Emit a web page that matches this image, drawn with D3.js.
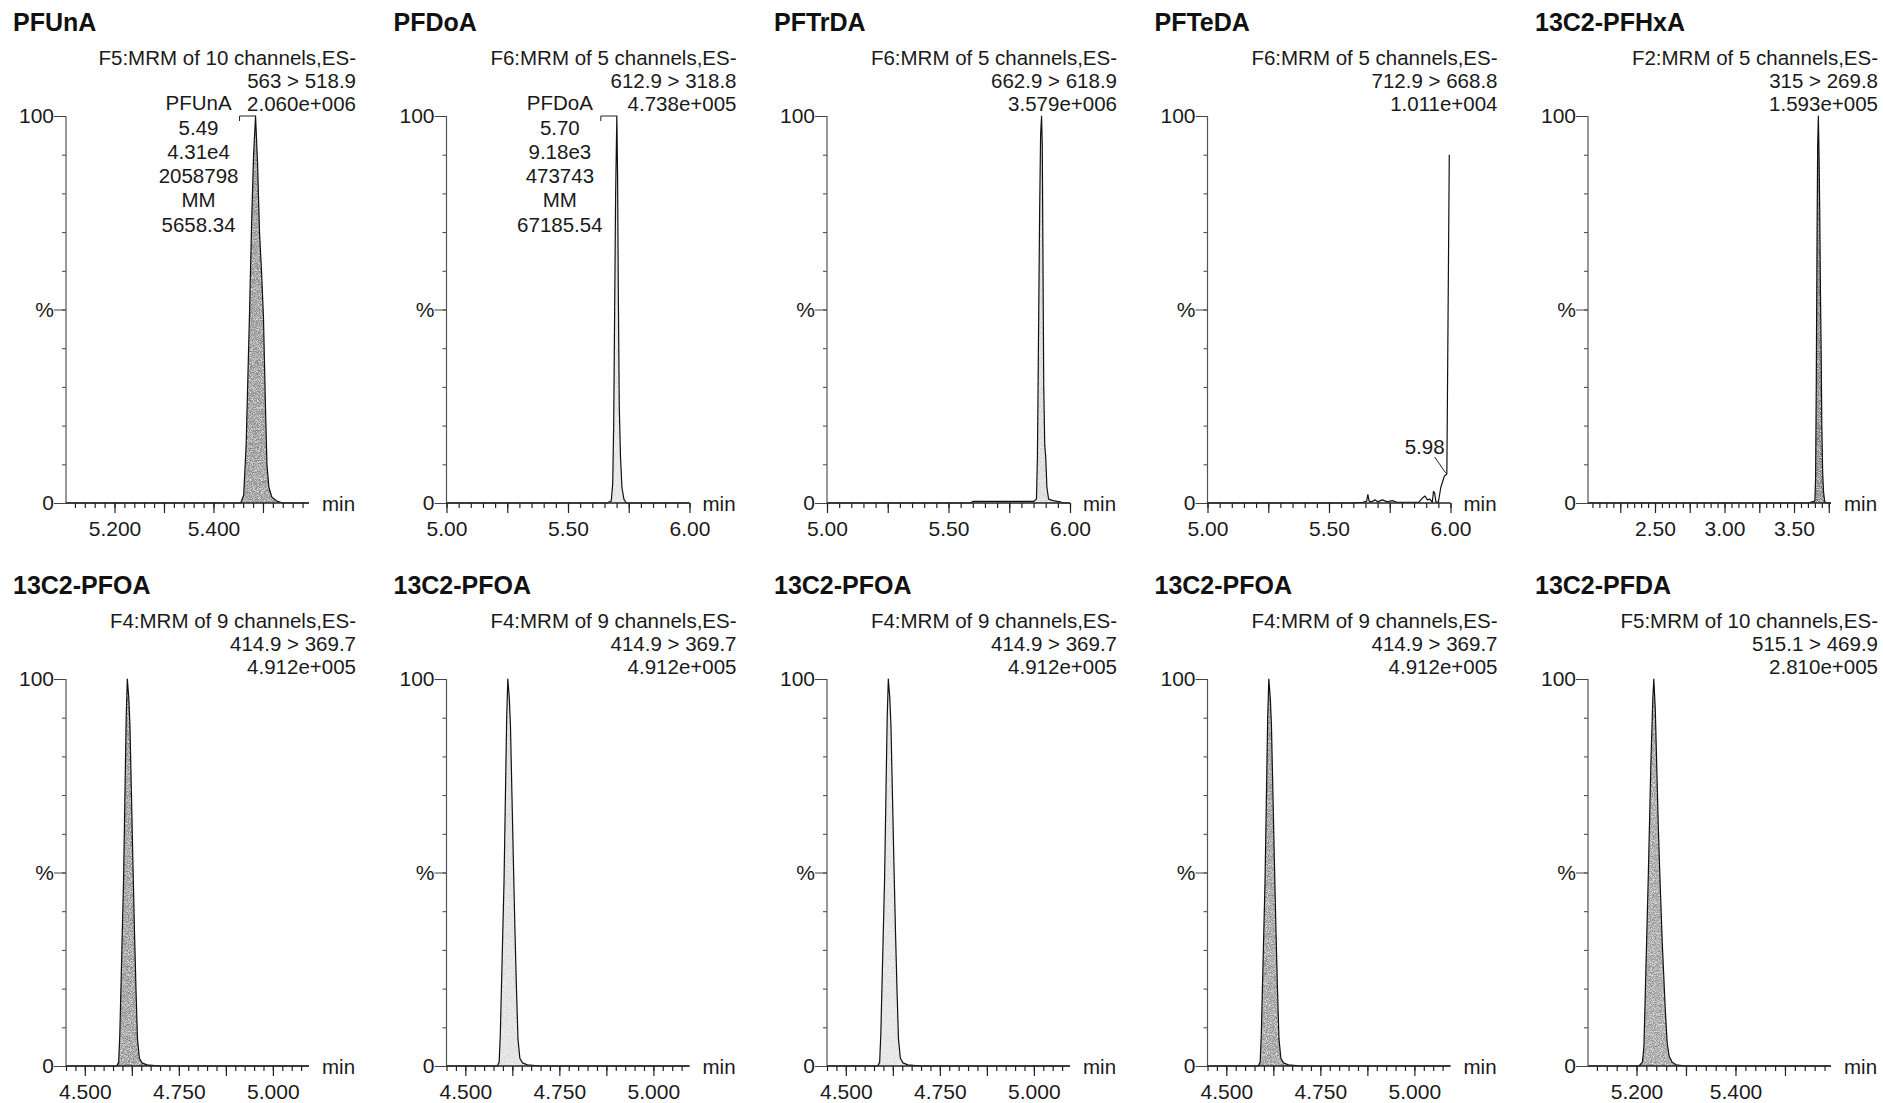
<!DOCTYPE html>
<html>
<head>
<meta charset="utf-8">
<script src="https://cdn.jsdelivr.net/npm/d3@7"></script>
<style>
  body { margin: 0; background: #fff; }
  svg { display: block; font-family: "Liberation Sans", Arial, sans-serif; }
  .title { font-size: 25px; font-weight: bold; fill: #111; }
  .hdr, .pk { font-size: 20.5px; fill: #1a1a1a; }
  .tick text { font-size: 21px; fill: #1a1a1a; font-family: "Liberation Sans", Arial, sans-serif; }
  .unit { font-size: 20.5px; fill: #1a1a1a; }
</style>
</head>
<body>
<script>
// panel headers
var titles = ["PFUnA", "PFDoA", "PFTrDA", "PFTeDA", "13C2-PFHxA",
  "13C2-PFOA", "13C2-PFOA", "13C2-PFOA", "13C2-PFOA", "13C2-PFDA"];
var functions = ["F5:MRM of 10 channels,ES-", "F6:MRM of 5 channels,ES-", "F6:MRM of 5 channels,ES-",
  "F6:MRM of 5 channels,ES-", "F2:MRM of 5 channels,ES-", "F4:MRM of 9 channels,ES-",
  "F4:MRM of 9 channels,ES-", "F4:MRM of 9 channels,ES-", "F4:MRM of 9 channels,ES-",
  "F5:MRM of 10 channels,ES-"];
var transitions = ["563 > 518.9", "612.9 > 318.8", "662.9 > 618.9", "712.9 > 668.8", "315 > 269.8",
  "414.9 > 369.7", "414.9 > 369.7", "414.9 > 369.7", "414.9 > 369.7", "515.1 > 469.9"];
var maxCounts = ["2.060e+006", "4.738e+005", "3.579e+006", "1.011e+004", "1.593e+005",
  "4.912e+005", "4.912e+005", "4.912e+005", "4.912e+005", "2.810e+005"];

// time windows (min) and labelled ticks per MRM function
var timeRangeF5 = [5.102, 5.593], tickLabelsF5 = [5.2, 5.4];
var timeRangeF6 = [5.0, 6.0], tickLabelsF6 = [5.0, 5.5, 6.0];
var timeRangeF2 = [2.018, 3.766], tickLabelsF2 = [2.5, 3.0, 3.5];
var timeRangeF4 = [4.45, 5.096], tickLabelsF4 = [4.5, 4.75, 5.0];

// chromatogram traces: [time (min), intensity (%)]
var tracePFUnA = [[5.102, 0], [5.35, 0], [5.455, 0], [5.461, 2], [5.466, 15], [5.470, 35], [5.473, 50],
  [5.477, 72], [5.481, 90], [5.485, 100], [5.489, 88], [5.493, 70], [5.497, 60], [5.501, 48],
  [5.505, 25], [5.508, 10], [5.512, 4], [5.518, 1.5], [5.528, 0.5], [5.54, 0], [5.593, 0]];
var tracePFDoA = [[5.0, 0], [5.66, 0], [5.678, 0.5], [5.684, 5], [5.688, 20], [5.692, 50], [5.696, 80],
  [5.701, 100], [5.704, 85], [5.707, 55], [5.711, 25], [5.716, 12], [5.722, 4], [5.73, 1], [5.74, 0], [6.0, 0]];
var tracePFTrDA = [[5.0, 0], [5.59, 0], [5.60, 0.4], [5.85, 0.4], [5.862, 1], [5.866, 12], [5.870, 40],
  [5.875, 75], [5.879, 95], [5.883, 100], [5.886, 92], [5.889, 60], [5.892, 30], [5.896, 15], [5.90, 12],
  [5.905, 4], [5.912, 1], [5.93, 0.6], [5.96, 0.3], [5.97, 0], [6.0, 0]];
var tracePFTeDA = [[5.0, 0], [5.60, 0], [5.64, 0.2], [5.655, 0.5], [5.66, 2.2], [5.665, 0.5], [5.675, 0.3],
  [5.69, 0.8], [5.70, 0.3], [5.72, 0.8], [5.74, 0.3], [5.76, 0.6], [5.78, 0.2], [5.87, 0.2], [5.885, 1.3],
  [5.895, 1.8], [5.905, 0.8], [5.915, 1.0], [5.925, 0.2], [5.93, 3.0], [5.935, 2.5], [5.94, 0.3],
  [5.95, 0.2], [5.96, 4], [5.975, 7], [5.985, 7.5], [5.995, 90]];
var tracePFHxA = [[2.018, 0], [3.60, 0], [3.650, 0.5], [3.655, 6], [3.660, 30], [3.665, 65], [3.670, 92],
  [3.675, 100], [3.680, 90], [3.685, 75], [3.690, 55], [3.695, 40], [3.70, 20], [3.706, 8], [3.712, 3],
  [3.72, 0.5], [3.73, 0], [3.766, 0]];
var tracePFOA = [[4.45, 0], [4.585, 0], [4.590, 1], [4.593, 8], [4.598, 28], [4.603, 48], [4.607, 72],
  [4.610, 90], [4.613, 100], [4.617, 95], [4.620, 88], [4.624, 70], [4.628, 52], [4.632, 35], [4.636, 20],
  [4.640, 7], [4.645, 2], [4.652, 0.8], [4.665, 0.3], [4.70, 0], [5.096, 0]];
var tracePFDA = [[5.102, 0], [5.205, 0], [5.212, 1], [5.215, 5], [5.219, 25], [5.224, 50], [5.229, 78],
  [5.233, 95], [5.235, 100], [5.238, 92], [5.241, 77], [5.244, 62], [5.247, 50], [5.252, 32], [5.258, 15],
  [5.262, 6], [5.266, 2.5], [5.272, 1], [5.28, 0.3], [5.30, 0], [5.593, 0]];

// peak annotations
var peakPFUnA = { rt: 5.485, lines: ["PFUnA", "5.49", "4.31e4", "2058798", "MM", "5658.34"] };
var peakPFDoA = { rt: 5.701, lines: ["PFDoA", "5.70", "9.18e3", "473743", "MM", "67185.54"] };
var peakPFTeDA = { rt: 5.98, level: 7, lines: ["5.98"] };

var axisF5 = { range: timeRangeF5, labels: tickLabelsF5, major: 0.1, minor: 0.02, fmt: ".3f" };
var axisF6 = { range: timeRangeF6, labels: tickLabelsF6, major: 0.25, minor: 0.05, fmt: ".2f" };
var axisF2 = { range: timeRangeF2, labels: tickLabelsF2, major: 0.25, minor: 0.05, fmt: ".2f" };
var axisF4 = { range: timeRangeF4, labels: tickLabelsF4, major: 0.125, minor: 0.025, fmt: ".3f" };

var traces = [tracePFUnA, tracePFDoA, tracePFTrDA, tracePFTeDA, tracePFHxA,
  tracePFOA, tracePFOA, tracePFOA, tracePFOA, tracePFDA];
var axes = [axisF5, axisF6, axisF6, axisF6, axisF2, axisF4, axisF4, axisF4, axisF4, axisF5];
var peaks = [peakPFUnA, peakPFDoA, null, peakPFTeDA, null, null, null, null, null, null];
// peak fill shade of the scanned print (null = line only)
var shades = ["#8a8a8a", "#e2e2e2", "#d6d6d6", null, "#767676", "#8c8c8c", "#dcdcdc", "#e0e0e0", "#909090", "#969696"];

var W = 1883, H = 1103;
var colX = [66, 446.5, 827, 1207.5, 1588];
var rowTop = [116, 679];
var plotW = 243, plotH = 387;

var svg = d3.select("body").append("svg").attr("width", W).attr("height", H);
svg.append("rect").attr("width", W).attr("height", H).attr("fill", "#fff");

// speckle like the scanned halftone
var filt = svg.append("defs").append("filter").attr("id", "grain")
  .attr("x", "-5%").attr("y", "-5%").attr("width", "110%").attr("height", "110%");
filt.append("feTurbulence").attr("type", "fractalNoise").attr("baseFrequency", "1.1")
  .attr("numOctaves", 1).attr("seed", 7).attr("result", "noise");
filt.append("feColorMatrix").attr("in", "noise").attr("type", "matrix")
  .attr("values", "0 0 0 0 1  0 0 0 0 1  0 0 0 0 1  2.2 0 0 0 -0.9").attr("result", "specks");
filt.append("feComposite").attr("in", "specks").attr("in2", "SourceGraphic").attr("operator", "atop");

function stepTicks(range, step) {
  var k0 = Math.ceil(range[0] / step - 1e-6), k1 = Math.floor(range[1] / step + 1e-6);
  return d3.range(k0, k1 + 1).map(k => +(k * step).toFixed(4));
}

traces.forEach((trace, i) => {
  var col = i % 5, row = Math.floor(i / 5);
  var ax = axes[i];
  var g = svg.append("g").attr("transform", "translate(" + colX[col] + "," + rowTop[row] + ")");

  var x = d3.scaleLinear().domain(ax.range).range([0, plotW]);
  var y = d3.scaleLinear().domain([0, 100]).range([plotH, 0]);

  // titles
  g.append("text").attr("class", "title").attr("x", -53).attr("y", -85).text(titles[i]);
  var hdr = [functions[i], transitions[i], maxCounts[i]];
  hdr.forEach((t, k) => {
    g.append("text").attr("class", "hdr").attr("text-anchor", "end")
      .attr("x", 290).attr("y", -51.5 + k * 23.3).text(t);
  });

  // trace
  if (shades[i]) {
    var area = d3.area().x(d => x(d[0])).y0(y(0)).y1(d => y(d[1]));
    g.append("path").attr("d", area(trace)).attr("fill", shades[i]).attr("filter", "url(#grain)");
  }
  var line = d3.line().x(d => x(d[0])).y(d => y(d[1]));
  g.append("path").attr("d", line(trace)).attr("fill", "none")
    .attr("stroke", "#111").attr("stroke-width", 1.2).attr("stroke-linejoin", "round");

  // y axis
  var yMinor = g.append("g").call(d3.axisLeft(y).tickValues(d3.range(0, 101, 10)).tickSize(4).tickFormat(""));
  var yMajor = g.append("g").call(d3.axisLeft(y).tickValues([0, 50, 100]).tickSize(12).tickPadding(0)
    .tickFormat(d => d === 50 ? "%" : d));
  [yMinor, yMajor].forEach(a => {
    a.select(".domain").remove();
    a.selectAll("line").attr("stroke", "#444").attr("stroke-width", 1);
  });
  g.append("line").attr("x1", 0).attr("x2", 0).attr("y1", y(100)).attr("y2", y(0))
    .attr("stroke", "#555").attr("stroke-width", 1.2);

  // x axis
  var xMinor = g.append("g").attr("transform", "translate(0," + plotH + ")")
    .call(d3.axisBottom(x).tickValues(stepTicks(ax.range, ax.minor)).tickSize(5).tickFormat(""));
  var xMajor = g.append("g").attr("transform", "translate(0," + plotH + ")")
    .call(d3.axisBottom(x).tickValues(stepTicks(ax.range, ax.major)).tickSize(10).tickFormat(""));
  var xLab = g.append("g").attr("transform", "translate(0," + plotH + ")")
    .call(d3.axisBottom(x).tickValues(ax.labels).tickSize(0).tickPadding(18).tickFormat(d3.format(ax.fmt)));
  [xMinor, xMajor, xLab].forEach(a => {
    a.select(".domain").remove();
    a.selectAll("line").attr("stroke", "#222").attr("stroke-width", 1.2);
  });
  g.append("line").attr("x1", x(ax.range[0])).attr("x2", x(ax.range[1]))
    .attr("y1", y(0)).attr("y2", y(0)).attr("stroke", "#222").attr("stroke-width", 1.3);
  g.append("text").attr("class", "unit").attr("x", plotW + 13).attr("y", plotH + 8).text("min");

  // peak labels
  var pk = peaks[i];
  if (pk && pk.lines.length > 1) {
    var px = x(pk.rt);
    pk.lines.forEach((t, k) => {
      g.append("text").attr("class", "pk").attr("text-anchor", "middle")
        .attr("x", px - 57).attr("y", k === 0 ? -6 : 18.5 + (k - 1) * 24.3).text(t);
    });
    g.append("path").attr("d", "M" + (px - 16) + "," + (y(100) + 5) + "V" + y(100) + "H" + px)
      .attr("fill", "none").attr("stroke", "#222").attr("stroke-width", 1);
  } else if (pk) {
    var qx = x(pk.rt), qy = y(pk.level);
    g.append("text").attr("class", "pk").attr("text-anchor", "middle")
      .attr("x", qx - 21).attr("y", qy - 22).text(pk.lines[0]);
    g.append("line").attr("x1", qx - 11).attr("y1", qy - 19).attr("x2", qx).attr("y2", qy - 3)
      .attr("stroke", "#222").attr("stroke-width", 1);
  }
});
</script>
</body>
</html>
